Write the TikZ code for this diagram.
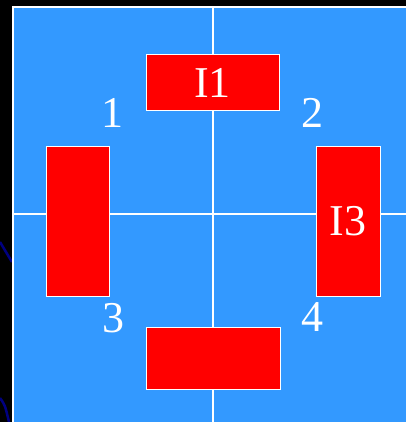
\documentclass[tikz,border=0pt]{standalone}
\usepackage{fontspec}
\setmainfont{Liberation Serif}
\usepackage{tikz}
\usetikzlibrary{positioning}

\definecolor{skyfill}{HTML}{3399FF}
\definecolor{navyline}{HTML}{000080}

\begin{document}
\begin{tikzpicture}[
  x=1pt, y=-1pt,
  font=\fontsize{44}{44}\selectfont,
  island/.style={draw=white, line width=1pt, fill=red, inner sep=0pt, text=white},
  corner/.style={text=white, inner sep=0pt},
  grid/.style={draw=white, line width=1.5pt}
]
  \useasboundingbox (0,0) rectangle (406,422);
  % page and slide background
  \fill[black] (0,0) rectangle (406,422);
  \draw[navyline, line width=2.5pt] (0,242) -- (12,262);
  \draw[navyline, line width=2.5pt] (0,398) .. controls (5,405) .. (9,422);
  \fill[skyfill] (12.75,7.25) rectangle (406,422);

  % slide edge and axes
  \coordinate (corner) at (12.75,7.25);
  \coordinate (topright) at (406,7.25);
  \coordinate (bottomleft) at (12.75,422);
  \coordinate (top) at (213,7.25);
  \coordinate (bottom) at (213,422);
  \coordinate (left) at (12.75,214);
  \coordinate (right) at (406,214);
  \draw[grid] (bottomleft) -- (corner) -- (topright);
  \draw[grid] (top) -- (bottom);
  \draw[grid] (left) -- (right);

  % islands
  \node[island, minimum width=133pt, minimum height=56pt] (i1) at (212.5,83) {I1};
  \node[island, minimum width=63pt, minimum height=150pt] (i2) at (77.5,221) {};
  \node[island, minimum width=64pt, minimum height=150pt] (i3) at (348,221) {I3};
  \node[island, minimum width=134pt, minimum height=62pt] (i4) at (213,358) {};

  % corner numbers
  \node[corner] (n1) at (112,113) {1};
  \node[corner] (n2) at (312,113) {2};
  \node[corner] (n3) at (113,318) {3};
  \node[corner] (n4) at (312,317) {4};
\end{tikzpicture}
\end{document}
